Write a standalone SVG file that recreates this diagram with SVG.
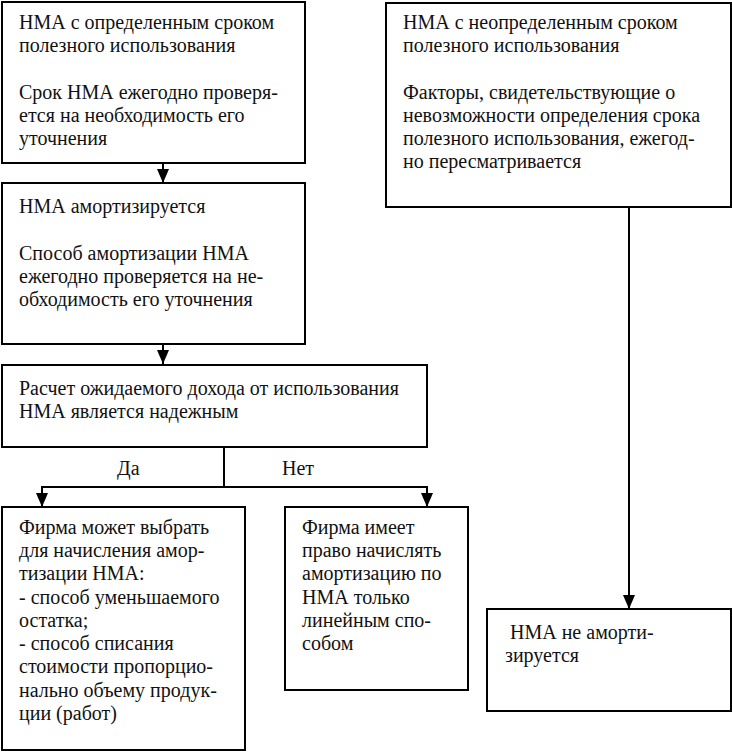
<svg xmlns="http://www.w3.org/2000/svg" width="732" height="752" viewBox="0 0 732 752">
<defs>
<style>
.box{fill:#fff;stroke:#000;stroke-width:2}
text{font-family:"Liberation Serif","DejaVu Serif","Noto Serif",serif;font-size:20px;fill:#111}
.ln{stroke:#000;stroke-width:2;fill:none}
</style>
<marker id="ah" viewBox="0 0 14 12" refX="14" refY="6" markerWidth="14" markerHeight="12" markerUnits="userSpaceOnUse" orient="auto">
<path d="M0,0 L14,6 L0,12 Z" fill="#000"/>
</marker>
</defs>
<rect width="732" height="752" fill="#fff"/>
<g id="connectors">
<line class="ln" x1="163" y1="163" x2="163" y2="183" marker-end="url(#ah)"/>
<line class="ln" x1="163" y1="344" x2="163" y2="364" marker-end="url(#ah)"/>
<polyline class="ln" points="224,447 224,487"/>
<polyline class="ln" points="224,487 42,487 42,507" marker-end="url(#ah)"/>
<polyline class="ln" points="224,487 427,487 427,507" marker-end="url(#ah)"/>
<line class="ln" x1="629" y1="207" x2="629" y2="609" marker-end="url(#ah)"/>
<text x="117" y="475" font-family="Liberation Serif, serif">Да</text>
<text x="282" y="475" font-family="Liberation Serif, serif">Нет</text>
</g>
<g id="n1">
<rect class="box" x="2" y="2" width="303" height="161"/>
<text x="19" y="29">НМА с определенным сроком</text>
<text x="19" y="52">полезного использования</text>
<text x="19" y="99">Срок НМА ежегодно проверя-</text>
<text x="19" y="122">ется на необходимость его</text>
<text x="19" y="145">уточнения</text>
</g>
<g id="n2">
<rect class="box" x="2" y="183" width="303" height="161"/>
<text x="19" y="213">НМА амортизируется</text>
<text x="19" y="260">Способ амортизации НМА</text>
<text x="19" y="283">ежегодно проверяется на не-</text>
<text x="19" y="306">обходимость его уточнения</text>
</g>
<g id="n3">
<rect class="box" x="2" y="365" width="425" height="82"/>
<text x="19" y="395">Расчет ожидаемого дохода от использования</text>
<text x="19" y="418">НМА является надежным</text>
</g>
<g id="n4">
<rect class="box" x="2" y="507" width="243" height="243"/>
<text x="19" y="534">Фирма может выбрать</text>
<text x="19" y="557">для начисления амор-</text>
<text x="19" y="580">тизации НМА:</text>
<text x="19" y="604">- способ уменьшаемого</text>
<text x="19" y="627">остатка;</text>
<text x="19" y="650">- способ списания</text>
<text x="19" y="673">стоимости пропорцио-</text>
<text x="19" y="697">нально объему продук-</text>
<text x="19" y="720">ции (работ)</text>
</g>
<g id="n5">
<rect class="box" x="285" y="507" width="183" height="183"/>
<text x="302" y="534">Фирма имеет</text>
<text x="302" y="557">право начислять</text>
<text x="302" y="580">амортизацию по</text>
<text x="302" y="604">НМА только</text>
<text x="302" y="627">линейным спо-</text>
<text x="302" y="650">собом</text>
</g>
<g id="n6">
<rect class="box" x="386" y="3" width="345" height="204"/>
<text x="403" y="29">НМА с неопределенным сроком</text>
<text x="403" y="52">полезного использования</text>
<text x="403" y="99">Факторы, свидетельствующие о</text>
<text x="403" y="122">невозможности определения срока</text>
<text x="403" y="145">полезного использования, ежегод-</text>
<text x="403" y="168">но пересматривается</text>
</g>
<g id="n7">
<rect class="box" x="487" y="609" width="244" height="102"/>
<text x="510" y="639">НМА не аморти-</text>
<text x="505" y="662">зируется</text>
</g>
</svg>
